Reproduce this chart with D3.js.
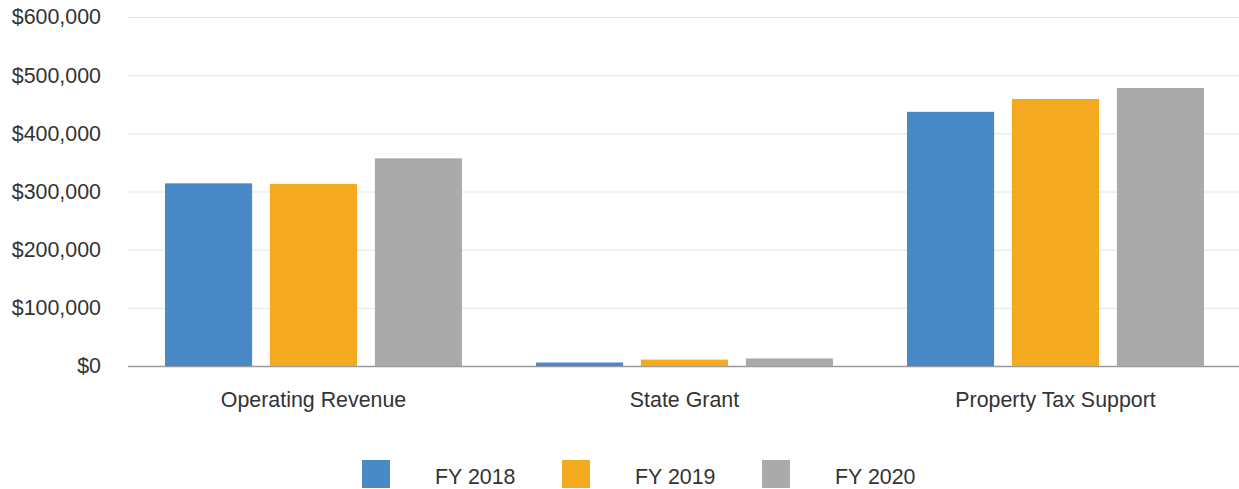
<!DOCTYPE html>
<html>
<head>
<meta charset="utf-8">
<script src="https://cdn.jsdelivr.net/npm/d3@7"></script>
<style>
  body { margin: 0; background: #fff; }
  text { font-family: "Liberation Sans", Arial, sans-serif; fill: #333; }
</style>
</head>
<body>
<div class="barChart"></div>
<script>
var categories = ["Operating Revenue", "State Grant", "Property Tax Support"];
var seriesNames = ["FY 2018", "FY 2019", "FY 2020"];
var fy2018 = [314000, 6000, 437000];
var fy2019 = [313000, 11000, 459000];
var fy2020 = [357000, 13000, 478000];
var yTicks = [0, 100000, 200000, 300000, 400000, 500000, 600000];
var colors = ["#4a89c8", "#f5a91f", "#aaaaaa"];

var seriesValues = [fy2018, fy2019, fy2020];

var width = 1239, height = 489;
var margin = {top: 17, right: 0, bottom: 123, left: 128};
var fontSize = 21.4;

var svg = d3.select(".barChart")
    .append("svg")
        .attr("width", width)
        .attr("height", height);

// y scale
var y = d3.scaleLinear()
    .domain([0, 600000])
    .range([height - margin.bottom, margin.top]);

// outer band per category, inner band per year
var x0 = d3.scaleBand()
    .domain(categories)
    .range([margin.left, 1241])
    .padding(0);

var x1 = d3.scaleBand()
    .domain(seriesNames)
    .range([37, x0.bandwidth() - 37])
    .paddingInner(0.17)
    .paddingOuter(0);

// gridlines + y labels
var yAxis = svg.append("g")
    .attr("transform", "translate(" + margin.left + ",0)")
    .call(d3.axisLeft(y)
        .tickValues(yTicks)
        .tickSize(-(width - margin.left))
        .tickPadding(27)
        .tickFormat(function(d) { return "$" + d3.format(",")(d); }));
yAxis.select(".domain").remove();
yAxis.selectAll(".tick line")
    .attr("stroke", function(d) { return d === 0 ? "#9a9a9a" : "#e4e4e4"; })
    .attr("stroke-width", function(d) { return d === 0 ? 1.3 : 1; });
yAxis.selectAll(".tick text")
    .attr("font-size", fontSize)
    .style("font-family", "'Liberation Sans', Arial, sans-serif")
    .attr("fill", "#333");

// bars
var groups = svg.append("g")
    .selectAll("g")
    .data(categories)
    .join("g")
        .attr("transform", function(d) { return "translate(" + x0(d) + ",0)"; });

groups.selectAll("rect")
    .data(function(d, i) {
        return seriesNames.map(function(s, j) {
            return {series: s, value: seriesValues[j][i], color: colors[j]};
        });
    })
    .join("rect")
        .attr("x", function(d) { return x1(d.series); })
        .attr("y", function(d) { return y(d.value); })
        .attr("width", x1.bandwidth())
        .attr("height", function(d) { return y(0) - y(d.value); })
        .attr("fill", function(d) { return d.color; });

// category labels
var xAxis = svg.append("g")
    .attr("transform", "translate(0," + (height - margin.bottom) + ")")
    .call(d3.axisBottom(x0).tickSize(0).tickPadding(26));
xAxis.select(".domain").remove();
xAxis.selectAll(".tick text")
    .attr("font-size", fontSize)
    .style("font-family", "'Liberation Sans', Arial, sans-serif")
    .attr("fill", "#333");

// legend
var legend = svg.append("g")
    .selectAll("g")
    .data(seriesNames)
    .join("g")
        .attr("transform", function(d, i) { return "translate(" + (362 + i * 200) + ",460)"; });

legend.append("rect")
    .attr("width", 28)
    .attr("height", 28)
    .attr("fill", function(d, i) { return colors[i]; });

legend.append("text")
    .attr("x", 73)
    .attr("y", 24)
    .attr("font-size", fontSize)
    .text(function(d) { return d; });
</script>
</body>
</html>
